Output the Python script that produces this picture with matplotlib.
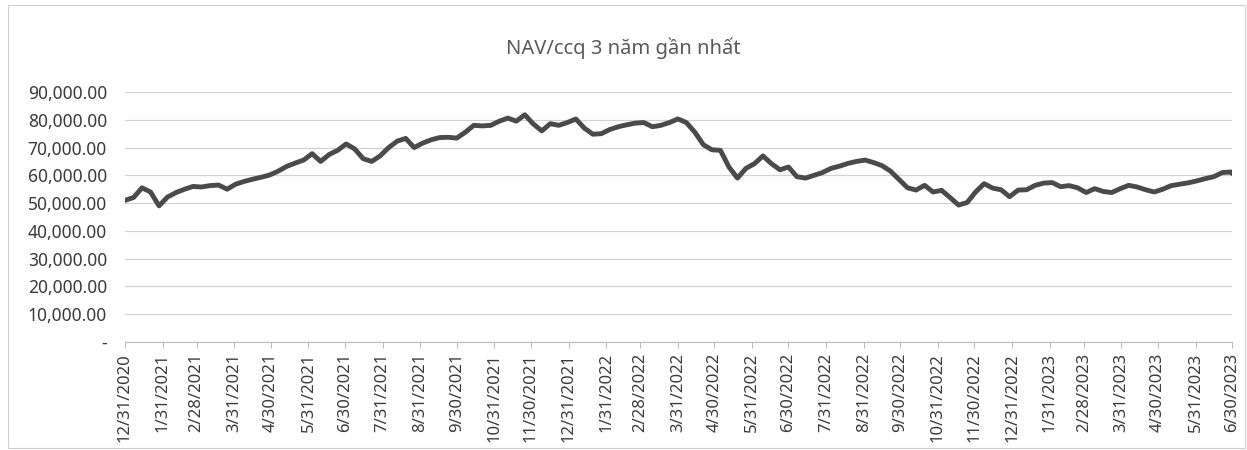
import matplotlib
matplotlib.use("Agg")
import matplotlib.pyplot as plt
import pandas as pd
from matplotlib.patches import Rectangle
from matplotlib.ticker import FuncFormatter

title = "NAV/ccq 3 năm gần nhất"
start_date = "2020-12-31"
end_date = "2023-06-30"
y_ticks = [0, 10000, 20000, 30000, 40000, 50000, 60000, 70000, 80000, 90000]

# weekly NAV per unit readings (thousands), starting 12/31/2020
nav_k = [
    51.0, 52.0, 55.5, 54.0, 49.0, 52.2, 53.8, 55.0, 56.0, 55.8,
    56.3, 56.5, 55.0, 56.8, 57.8, 58.6, 59.3, 60.1, 61.5, 63.2,
    64.4, 65.5, 67.8, 65.0, 67.5, 69.0, 71.3, 69.5, 66.0, 65.0,
    67.0, 70.0, 72.3, 73.3, 70.0, 71.6, 72.8, 73.6, 73.7, 73.4,
    75.5, 78.0, 77.8, 78.0, 79.5, 80.6, 79.5, 81.8, 78.5, 76.0,
    78.6, 78.0, 79.0, 80.3, 77.0, 74.8, 75.0, 76.5, 77.5, 78.2,
    78.8, 79.0, 77.5, 78.0, 79.0, 80.3, 79.0, 75.5, 71.0, 69.2,
    69.0, 63.0, 59.0, 62.5, 64.2, 67.0, 64.2, 62.0, 63.0, 59.5,
    59.0, 60.0, 61.0, 62.5, 63.3, 64.3, 65.0, 65.5, 64.6, 63.5,
    61.5, 58.5, 55.5, 54.7, 56.4, 54.0, 54.6, 52.0, 49.3, 50.2,
    54.0, 57.0, 55.4, 54.8, 52.3, 54.7, 54.8, 56.4, 57.2, 57.4,
    55.9, 56.3, 55.5, 53.8, 55.2, 54.2, 53.8, 55.2, 56.4, 55.8,
    54.8, 54.0, 55.0, 56.3, 56.8, 57.3, 58.0, 58.8, 59.5, 61.0,
    61.2, 60.8,
]

dates = list(pd.date_range(start_date, periods=len(nav_k) - 1, freq="7D")) + [pd.Timestamp(end_date)]
nav = [v * 1000 for v in nav_k]

plt.rcParams['font.family'] = ['Noto Sans', 'DejaVu Sans']

fig = plt.figure(figsize=(12.47, 4.5), dpi=100)
ax = fig.add_axes([125 / 1247, 1 - 342 / 450, (1232 - 125) / 1247, (342 - 92) / 450])

ax.plot(dates, nav, color="#4a4a4a", linewidth=3.5, solid_joinstyle="round")

ax.set_ylim(0, 90000)
ax.set_xlim(pd.Timestamp(start_date), pd.Timestamp(end_date))
ax.set_yticks(y_ticks)
ax.yaxis.set_major_formatter(FuncFormatter(lambda v, p: "-" if v == 0 else f"{v:,.2f}"))
ax.grid(axis="y", color="#d2d2d2", linewidth=0.9)
ax.set_axisbelow(True)

month_ends = pd.date_range(start_date, end_date, freq="ME")
ax.set_xticks(list(month_ends))
ax.set_xticklabels([f"{d.month}/{d.day}/{d.year}" for d in month_ends], rotation=90)

for s in ["top", "right", "left"]:
    ax.spines[s].set_visible(False)
ax.spines["bottom"].set_color("#bdbdbd")
ax.tick_params(axis="y", length=0, pad=13, labelsize=12.5, labelcolor="#3a3a3a")
ax.tick_params(axis="x", length=4, color="#bdbdbd", pad=4, labelsize=12, labelcolor="#3a3a3a")

fig.text(0.5, 1 - 48 / 450, title, ha="center", va="center", fontsize=14.5, color="#595959")

fig.patches.append(Rectangle((8 / 1247, 0.005), 1 - 10 / 1247, 1 - 5 / 450 - 0.005,
                             transform=fig.transFigure, fill=False,
                             edgecolor="#d0d0d0", linewidth=0.8))

fig.savefig("out.png", dpi=100)
